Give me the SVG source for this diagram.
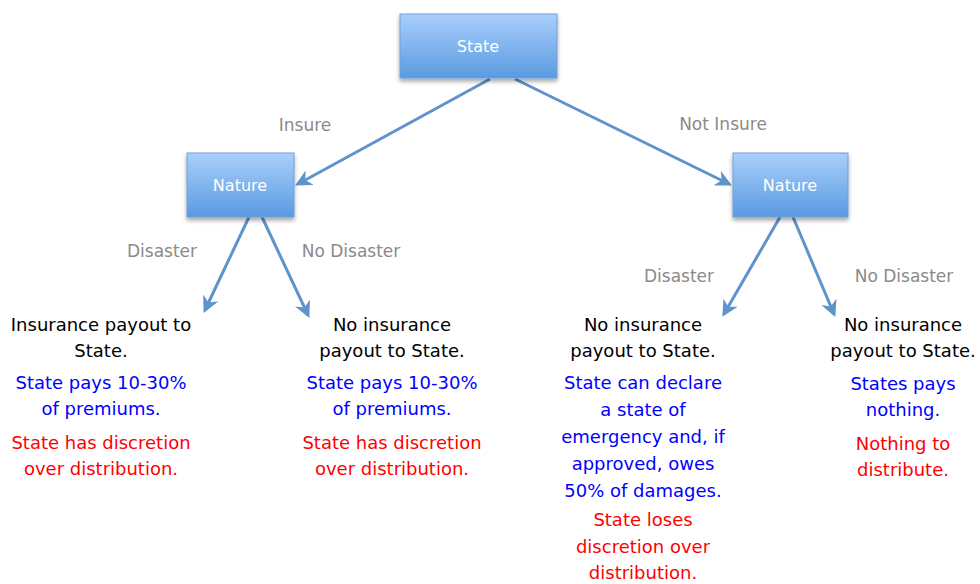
<svg xmlns="http://www.w3.org/2000/svg" width="980" height="584" viewBox="0 0 980 584">
<defs>
<linearGradient id="g" x1="0" y1="0" x2="0" y2="1">
<stop offset="0" stop-color="#a9cffc"/>
<stop offset="1" stop-color="#5a9ae0"/>
</linearGradient>
<filter id="sh" x="-20%" y="-20%" width="140%" height="150%">
<feDropShadow dx="0" dy="3" stdDeviation="2" flood-color="#000" flood-opacity="0.35"/>
</filter>
<marker id="ah" viewBox="0 0 10 10" refX="8" refY="5" markerWidth="5.5" markerHeight="5.5" orient="auto" markerUnits="strokeWidth">
<path d="M0,0 L10,5 L0,10 L3,5 Z" fill="#5f93cc"/>
</marker>
</defs>
<style>
.box{fill:url(#g);stroke:#6f9fd5;stroke-width:1;filter:url(#sh)}
.bt{font-family:"DejaVu Sans",sans-serif;font-size:16px;fill:#fff;text-anchor:middle}
.lbl{font-family:"DejaVu Sans",sans-serif;font-size:17px;fill:#8a8a8a;text-anchor:middle}
.t{font-family:"DejaVu Sans",sans-serif;font-size:18px;text-anchor:middle}
.k{fill:#000}.b{fill:#0000ff}.r{fill:#ff0000}
.c{stroke:#5f93cc;stroke-width:3;fill:none;marker-end:url(#ah)}
</style>
<g id="connectors">
<line class="c" x1="490" y1="79" x2="298" y2="184"/>
<line class="c" x1="515" y1="79" x2="729" y2="184"/>
<line class="c" x1="249" y1="217" x2="205" y2="310"/>
<line class="c" x1="262" y1="217" x2="308" y2="315"/>
<line class="c" x1="780" y1="217" x2="724" y2="314"/>
<line class="c" x1="793" y1="217" x2="834" y2="314"/>
</g>
<g id="node-state">
<rect class="box" x="400" y="14" width="157" height="64"/>
<text class="bt" x="478" y="52">State</text>
</g>
<g id="node-nature-left">
<rect class="box" x="187" y="153" width="107" height="64"/>
<text class="bt" x="240" y="191">Nature</text>
</g>
<g id="node-nature-right">
<rect class="box" x="733" y="153" width="115" height="64"/>
<text class="bt" x="790" y="191">Nature</text>
</g>
<g id="labels">
<text class="lbl" x="305" y="131">Insure</text>
<text class="lbl" x="723" y="130">Not Insure</text>
<text class="lbl" x="162" y="257">Disaster</text>
<text class="lbl" x="351" y="257">No Disaster</text>
<text class="lbl" x="679" y="282">Disaster</text>
<text class="lbl" x="904" y="282">No Disaster</text>
</g>
<g id="outcome-1">
<text class="t k" x="101" y="331">Insurance payout to</text>
<text class="t k" x="101" y="357">State.</text>
<text class="t b" x="101" y="389">State pays 10-30%</text>
<text class="t b" x="101" y="415">of premiums.</text>
<text class="t r" x="101" y="449">State has discretion</text>
<text class="t r" x="101" y="475">over distribution.</text>
</g>
<g id="outcome-2">
<text class="t k" x="392" y="331">No insurance</text>
<text class="t k" x="392" y="357">payout to State.</text>
<text class="t b" x="392" y="389">State pays 10-30%</text>
<text class="t b" x="392" y="415">of premiums.</text>
<text class="t r" x="392" y="449">State has discretion</text>
<text class="t r" x="392" y="475">over distribution.</text>
</g>
<g id="outcome-3">
<text class="t k" x="643" y="331">No insurance</text>
<text class="t k" x="643" y="357">payout to State.</text>
<text class="t b" x="643" y="389">State can declare</text>
<text class="t b" x="643" y="416">a state of</text>
<text class="t b" x="643" y="443">emergency and, if</text>
<text class="t b" x="643" y="470">approved, owes</text>
<text class="t b" x="643" y="497">50% of damages.</text>
<text class="t r" x="643" y="526">State loses</text>
<text class="t r" x="643" y="553">discretion over</text>
<text class="t r" x="643" y="579">distribution.</text>
</g>
<g id="outcome-4">
<text class="t k" x="903" y="331">No insurance</text>
<text class="t k" x="903" y="357">payout to State.</text>
<text class="t b" x="903" y="390">States pays</text>
<text class="t b" x="903" y="416">nothing.</text>
<text class="t r" x="903" y="450">Nothing to</text>
<text class="t r" x="903" y="476">distribute.</text>
</g>
</svg>
